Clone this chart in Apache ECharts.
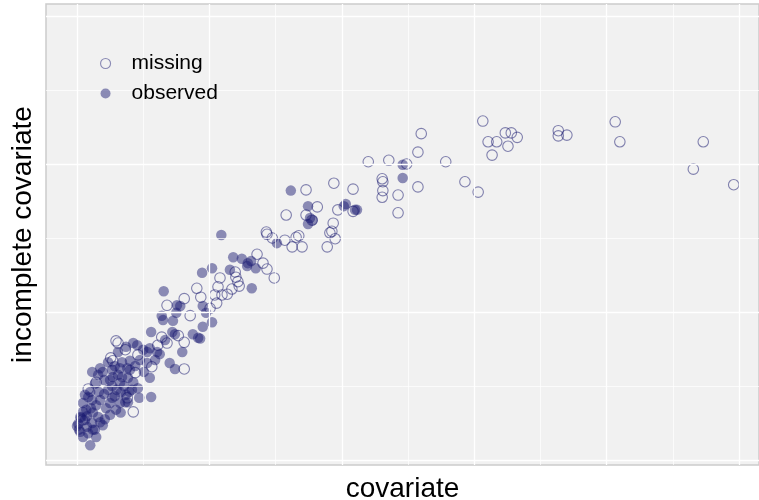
<!DOCTYPE html>
<html>
<head>
<meta charset="utf-8">
<script src="https://cdn.jsdelivr.net/npm/echarts@6/dist/echarts.min.js"></script>
<style>
  html, body { margin: 0; padding: 0; background: #ffffff; }
  #chart { width: 759px; height: 500px; }
</style>
</head>
<body>
<div id="chart"></div>
<script>
// Covariate vs. incomplete covariate; cases where the incomplete covariate is missing / observed
const seriesNames = ['missing', 'observed'];

// [covariate, incomplete covariate]
const missingPoints = [
  [61.3,45.8],[81.3,45.7],[52.0,44.1],[64.7,44.2],[65.6,44.2],[66.5,43.6],[62.1,43.0],[63.4,43.0],
  [65.1,42.4],[72.7,44.5],[72.7,43.8],[74.0,43.9],[82.0,43.0],[94.6,43.0],[62.7,41.2],[51.5,41.6],
  [47.1,40.5],[49.8,40.0],[55.7,40.3],[93.1,39.3],[99.2,37.2],[58.6,37.6],[60.6,36.2],[51.5,36.9],
  [46.2,37.6],[46.1,38.0],[46.2,36.4],[46.1,35.5],[48.5,35.8],[48.5,33.4],[44.0,40.3],[38.8,37.4],
  [41.7,36.6],[34.6,36.5],[36.3,34.2],[31.6,33.1],[34.6,33.1],[39.4,33.8],[41.7,33.6],[38.7,32.0],
  [38.2,30.7],[38.5,30.9],[39.0,29.9],[28.6,30.8],[28.7,30.5],[29.5,30.0],[31.4,29.7],[33.1,30.1],
  [33.5,30.3],[32.5,28.8],[34.0,28.8],[37.8,28.8],[35.5,32.4],[27.2,27.8],[28.1,26.6],[28.7,25.8],
  [29.8,24.6],[21.6,24.6],[21.3,23.4],[23.4,23.1],[23.9,25.4],[24.0,24.7],[24.3,24.1],[24.5,23.5],
  [22.7,22.4],[21.9,22.3],[20.8,22.3],[21.1,21.2],[20.1,20.5],[18.1,23.2],[18.7,22.0],[16.2,21.8],
  [13.6,20.9],[17.1,19.5],[15.3,16.8],[16.2,15.9],[12.8,16.6],[12.2,15.5],[13.6,15.8],[5.9,16.1],
  [6.2,15.8],[7.3,14.9],[5.1,13.8],[5.4,13.4],[9.2,14.2],[11.3,12.6],[8.8,11.8],[2.9,10.5],
  [1.7,9.6],[7.6,8.4],[8.5,6.5],[0.8,5.4],[16.2,12.3]
];

const observedPoints = [
  [49.2,39.9],[49.2,38.1],[32.3,36.4],[34.9,34.3],[35.2,32.7],[35.6,32.4],[34.9,31.9],[40.3,34.3],
  [40.6,34.6],[42.0,33.8],[42.3,33.8],[21.8,30.4],[30.2,29.3],[23.6,27.4],[24.9,27.2],[25.8,26.6],
  [26.3,26.9],[27.0,25.9],[25.7,26.2],[18.9,25.3],[20.4,25.9],[23.1,25.7],[26.4,23.2],[13.1,22.8],
  [15.1,20.9],[15.6,20.8],[12.8,19.5],[13.0,18.9],[14.5,18.8],[15.0,19.9],[19.0,20.8],[19.5,19.9],
  [20.4,18.6],[19.0,18.0],[11.2,17.3],[14.4,17.3],[14.8,17.0],[17.5,17.0],[18.3,16.5],[18.6,16.4],
  [15.9,14.6],[13.3,16.2],[9.1,15.5],[11.0,15.1],[10.6,14.6],[12.1,14.6],[12.5,14.3],[9.5,13.5],
  [14.0,13.1],[14.8,12.3],[8.0,13.4],[6.8,13.2],[3.5,12.4],[3.9,11.9],[3.2,11.5],[5.4,11.2],
  [6.2,11.5],[6.8,11.2],[9.4,8.4],[11.2,8.5],[2.0,9.2],[1.7,8.5],[0.9,7.7],[0.9,6.5],
  [0.5,5.8],[1.5,5.9],[2.4,6.4],[3.2,5.8],[4.2,5.5],[5.0,7.7],[5.3,8.4],[6.5,7.7],
  [7.3,7.8],[7.7,7.8],[0.3,4.1],[0.9,3.1],[2.0,2.0],[1.5,4.5],[2.4,4.1],[2.7,4.1],
  [6.5,10.4],[7.1,10.0],[6.0,9.5],[7.7,11.1],[8.5,10.5],[4.7,9.5],[5.3,10.0],[4.1,8.9],
  [3.5,8.1],[2.9,7.4],[2.1,7.0],[4.4,7.0],[5.9,6.8],[7.9,9.2],[9.2,9.7],[10.1,11.9],
  [11.0,11.1],[5.0,10.8],[2.7,10.3],[1.2,5.4],[2.3,5.0],[3.5,5.1],[0.2,4.9],[1.7,3.6],
  [8.0,12.2],[6.5,12.4],[5.3,12.2],[10.6,13.1],[11.8,13.5],[7.4,8.8],
  [7.4,15.3],[8.5,15.8],[10.0,14.9],[6.2,14.6],[4.7,13.2],[5.7,12.7],[7.6,12.4],[8.8,12.7],
  [4.1,10.8],[3.3,9.2],[5.7,8.6],[6.6,9.1],[8.3,9.5],[2.3,8.1],[1.4,6.8],[0.6,5.7],
  [0.0,4.6],[0.5,3.8],[2.9,3.1],[3.9,4.7],[5.0,6.1],[6.6,6.4],[1.2,8.8],[2.3,11.9]
];

// Gridline positions (major / minor) in data units
const xMajor = [0, 20, 40, 60, 80, 100];
const xMinor = [10, 30, 50, 70, 90];
const yMajor = [0, 20, 40, 60];
const yMinor = [10, 30, 50];

const pointColor = 'rgba(25,25,112,0.6)';
const fontFamily = '"Liberation Sans", Arial, Helvetica, sans-serif';

const gridLines = []
  .concat(xMajor.map(v => ({ xAxis: v, lineStyle: { width: 1.3 } })))
  .concat(xMinor.map(v => ({ xAxis: v, lineStyle: { width: 0.7 } })))
  .concat(yMajor.map(v => ({ yAxis: v, lineStyle: { width: 1.3 } })))
  .concat(yMinor.map(v => ({ yAxis: v, lineStyle: { width: 0.7 } })));

const chart = echarts.init(document.getElementById('chart'), null, { renderer: 'canvas' });

chart.setOption({
  animation: false,
  backgroundColor: '#ffffff',
  textStyle: { fontFamily: fontFamily },
  grid: {
    left: 46, right: 0, top: 4, bottom: 35,
    containLabel: false,
    outerBoundsMode: 'none',
    show: true,
    backgroundColor: '#f1f1f1',
    borderColor: '#cbcbcb',
    borderWidth: 1.5
  },
  legend: {
    orient: 'vertical',
    left: 95,
    top: 48,
    z: 10,
    itemWidth: 42,
    itemHeight: 10,
    itemGap: 9,
    textStyle: { fontSize: 21, color: '#000000', fontFamily: fontFamily },
    data: [
      { name: seriesNames[0], icon: 'circle',
        itemStyle: { color: 'rgba(0,0,0,0)', borderColor: pointColor, borderWidth: 1.1 } },
      { name: seriesNames[1], icon: 'circle',
        itemStyle: { color: pointColor, borderWidth: 0 } }
    ]
  },
  xAxis: {
    type: 'value',
    min: -4.68,
    max: 103.02,
    name: 'covariate',
    nameLocation: 'middle',
    nameGap: 10,
    nameTextStyle: { fontSize: 28, color: '#000000', fontFamily: fontFamily },
    axisLine: { show: false },
    axisTick: { show: false },
    axisLabel: { show: false },
    splitLine: { show: false }
  },
  yAxis: {
    type: 'value',
    min: -0.68,
    max: 61.62,
    name: 'incomplete covariate',
    nameLocation: 'middle',
    nameGap: 9,
    nameTextStyle: { fontSize: 28, color: '#000000', fontFamily: fontFamily },
    axisLine: { show: false },
    axisTick: { show: false },
    axisLabel: { show: false },
    splitLine: { show: false }
  },
  series: [
    {
      name: 'gridlines',
      type: 'line',
      data: [],
      z: 1,
      silent: true,
      markLine: {
        silent: true,
        symbol: ['none', 'none'],
        label: { show: false },
        lineStyle: { color: '#ffffff', type: 'solid' },
        data: gridLines
      }
    },
    {
      name: seriesNames[1],
      type: 'scatter',
      z: 3,
      symbol: 'circle',
      symbolSize: 10.5,
      itemStyle: { color: pointColor, borderWidth: 0 },
      data: observedPoints
    },
    {
      name: seriesNames[0],
      type: 'scatter',
      z: 4,
      symbol: 'circle',
      symbolSize: 10.5,
      itemStyle: { color: 'rgba(0,0,0,0)', borderColor: 'rgba(25,25,112,0.65)', borderWidth: 1.1 },
      data: missingPoints
    }
  ]
});
</script>
</body>
</html>
